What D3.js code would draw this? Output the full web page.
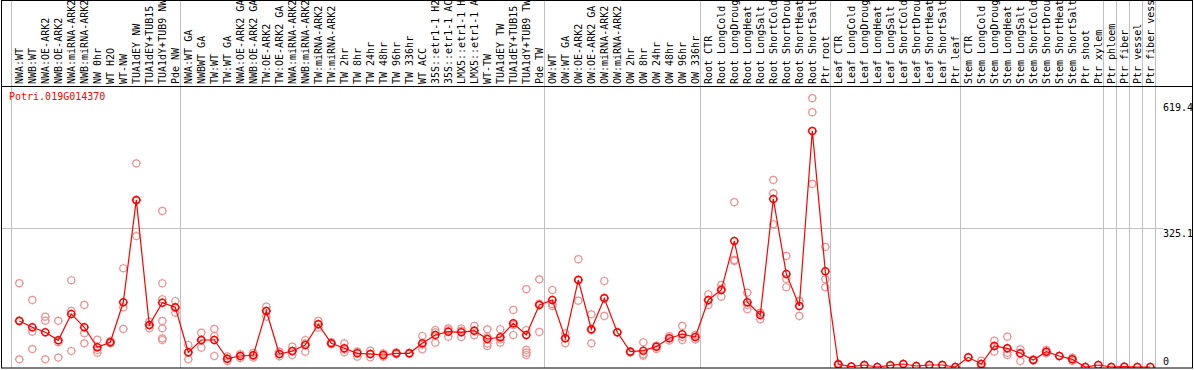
<!DOCTYPE html>
<html lang="en">
<head>
<meta charset="UTF-8">
<title>Potri.019G014370</title>
<script src="https://cdn.jsdelivr.net/npm/d3@7/dist/d3.min.js"></script>
<style>
    html, body { margin: 0; padding: 0; background: #fff; }
    svg { display: block; }
    text { font-family: "DejaVu Sans Mono", monospace; font-size: 10px; }
</style>
</head>
<body>
<div id="chart"></div>
<script>
// sample names, in plot order
var categories = [
    "NWA:WT", "NWB:WT", "NWA:OE-ARK2", "NWB:OE-ARK2", "NWA:miRNA-ARK2", "NWB:miRNA-ARK2",
    "NW 0hr", "WT H2O", "WT-NW", "TUA1dEY NW", "TUA1dEY+TUB15 NW", "TUA1dY+TUB9 NW", "Pde NW",
    "NWA:WT GA", "NWBWT GA", "TW:WT", "TW:WT GA", "NWA:OE-ARK2 GA", "NWB:OE-ARK2 GA", "TW:OE-ARK2",
    "TW:OE-ARK2 GA", "NWA:miRNA-ARK2", "NWB:miRNA-ARK2", "TW:miRNA-ARK2", "TW:miRNA-ARK2",
    "TW 2hr", "TW 8hr", "TW 24hr", "TW 48hr", "TW 96hr", "TW 336hr", "WT ACC",
    "35S::etr1-1 H2O", "35S::etr1-1 ACC", "LMX5::etr1-1 H2O", "LMX5::etr1-1 ACC", "WT-TW",
    "TUA1dEY TW", "TUA1dEY+TUB15 TW", "TUA1dY+TUB9 TW", "Pde TW",
    "OW:WT", "OW:WT GA", "OW:OE-ARK2", "OW:OE-ARK2 GA", "OW:miRNA-ARK2", "OW:miRNA-ARK2",
    "OW 2hr", "OW 8hr", "OW 24hr", "OW 48hr", "OW 96hr", "OW 336hr",
    "Root CTR", "Root LongCold", "Root LongDrought", "Root LongHeat", "Root LongSalt",
    "Root ShortCold", "Root ShortDrought", "Root ShortHeat", "Root ShortSalt", "Ptr root",
    "Leaf CTR", "Leaf LongCold", "Leaf LongDrought", "Leaf LongHeat", "Leaf LongSalt",
    "Leaf ShortCold", "Leaf ShortDrought", "Leaf ShortHeat", "Leaf ShortSalt", "Ptr leaf",
    "Stem CTR", "Stem LongCold", "Stem LongDrought", "Stem LongHeat", "Stem LongSalt",
    "Stem ShortCold", "Stem ShortDrought", "Stem ShortHeat", "Stem ShortSalt", "Ptr shoot",
    "Ptr xylem", "Ptr phloem", "Ptr fiber", "Ptr vessel", "Ptr fiber vessel"
];

// index of the last sample in each group (a vertical rule follows it)
var groupEnds = [-1, 12, 40, 52, 62, 72, 83, 84, 85, 86, 87];

// mean expression per sample
var means = [
    107.6, 92.8, 81.1, 62.4, 124, 92.8, 46, 57.8, 151.3, 390.6, 98.2, 150.4, 139.6,
    34.4, 63.1, 63.1, 19.4, 25.7, 27.4, 131, 30.4, 37.4, 51.4, 99.8, 55.4, 43.7, 32,
    30.4, 28, 32, 32, 55.4, 74.8, 82.6, 81.1, 84.9, 65.5, 69.5, 102.2, 74.8, 145,
    156.7, 67.1, 203.5, 88.2, 160.7, 81.1, 35.8, 38.2, 47.5, 67.1, 76.5, 70.2,
    156.7, 180, 294.7, 151.3, 121.6, 392.9, 217.5, 142.7, 551.9, 223.8,
    6.3, 1, 4.7, 0, 4, 7, 2.3, 4.7, 4.7, 0,
    22.6, 7, 49.1, 43.7, 32, 16.4, 35.8, 25.7, 18, 0, 4.7,
    0, 0.7, 0, 0
];

// individual replicates per sample
var replicates = [
    [196, 109, 18], [156.7, 82.6, 42], [117.7, 108.3, 18], [108, 58, 22], [202.8, 131, 37.4],
    [145, 78.8, 55.4], [63.9, 39.8, 33.5], [60.8, 55.4, 57], [230.8, 139.6, 88.9],
    [476, 389, 306], [106, 90.5, 98], [364.8, 195.7, 158.3, 107.6, 90.5, 67.1, 63.1],
    [154.3, 127, 138],
    [51.4, 34, 18], [80.2, 63, 45.1], [88.9, 72.5, 25.7], [25, 19, 14], [30, 26, 21],
    [33, 27, 22], [141, 131, 117.7], [36, 30, 25], [47.5, 37, 28], [63.1, 55, 35.8],
    [107.6, 100, 92], [58, 55, 53], [55.4, 41, 34.4], [35.8, 36, 24.1], [38.2, 30, 22.6],
    [32, 28, 24], [34, 30, 31], [33, 31], [72.5, 52, 41.4], [86.5, 81, 56.8],
    [90.5, 86, 70.9], [90, 85, 70], [95.9, 85, 74], [88, 55, 49, 70], [88.2, 56.8, 64],
    [133.3, 74.8, 98], [182, 86.5, 40, 33.5, 28], [205, 81.9, 148],
    [180, 142.7, 147], [78.8, 67, 55.4], [252, 155, 204], [123.2, 55.4, 86],
    [201, 119.3, 162], [81], [37, 34], [57.8, 30, 26.4], [50, 42], [72, 62],
    [95.9, 70, 63.1], [75, 64],
    [170, 155, 145], [191.8, 183, 164.4], [385.2, 250.2, 248], [173.8, 145, 134.9],
    [127, 126, 111.5], [437.3, 406.2, 333.7], [259.6, 205.8, 186.4], [154.3, 154, 119.3],
    [628.4, 595.7, 428], [280.6, 205.1, 186.4],
    [8, 6, 5], [1], [5, 4], [0], [4], [7], [2], [5], [5], [0],
    [22.6], [14.7, 7, 0], [61.5, 49, 35.8], [70.9, 43.7, 33.5, 28], [41.4, 32, 14],
    [18, 15], [40, 36, 32], [26], [22, 18, 14], [0], [4.7],
    [0], [0.7], [0], [0]
];

var yTicks = [0, 325.1, 619.4];
var geneName = "Potri.019G014370";

var W = 1194, H = 370;
var labelBottom = 86, plotBottom = 368;

var svg = d3.select("#chart").append("svg")
    .attr("width", W).attr("height", H);

var x = d3.scaleLinear().domain([0, categories.length - 1]).range([19.3, 19.3 + 13 * (categories.length - 1)]);
var y = d3.scaleLinear().domain([0, 619.4]).range([367, 102]);

svg.append("defs").append("clipPath").attr("id", "labClip")
    .append("rect").attr("x", 0).attr("y", 1).attr("width", W).attr("height", labelBottom - 1);
svg.append("defs").append("clipPath").attr("id", "plotClip")
    .append("rect").attr("x", 2).attr("y", labelBottom).attr("width", W - 4).attr("height", plotBottom - labelBottom);

// grid
svg.append("g").selectAll("line").data(groupEnds).enter().append("line")
    .attr("x1", function (d) { return Math.round(x(d) + 5) + 0.5; })
    .attr("x2", function (d) { return Math.round(x(d) + 5) + 0.5; })
    .attr("y1", 0).attr("y2", plotBottom)
    .attr("stroke", "#c0c0c0").attr("stroke-width", 1);

svg.append("line")
    .attr("x1", 1).attr("x2", 1163)
    .attr("y1", Math.round(y(325.1)) + 0.5).attr("y2", Math.round(y(325.1)) + 0.5)
    .attr("stroke", "#c0c0c0");

// sample labels (long ones run into the top edge, as in the original)
svg.append("g").attr("clip-path", "url(#labClip)")
    .selectAll("text").data(categories).enter().append("text")
    .attr("transform", function (d, i) { return "translate(" + (x(i) + 3.5) + "," + 84 + ") rotate(-90)"; })
    .attr("fill", "#000")
    .text(function (d) { return d; });

// y tick labels
svg.append("g").selectAll("text").data(yTicks).enter().append("text")
    .attr("x", 1163)
    .attr("y", function (d) { return d === 0 ? y(d) - 2 : y(d) + 9; })
    .attr("fill", "#000")
    .text(function (d) { return d === 0 ? "0" : d3.format(".1f")(d); });

svg.append("text").attr("x", 9).attr("y", 100).attr("fill", "red").text(geneName);

var marker = function (r) {
    return "M" + (-r) + ",0a" + r + "," + r + " 0 1,0 " + (2 * r) + ",0a" + r + "," + r + " 0 1,0 " + (-2 * r) + ",0" +
        "M0," + (-r - 1) + "v1M0," + r + "v1M" + (-r - 1) + ",0h1M" + r + ",0h1";
};

var plot = svg.append("g").attr("clip-path", "url(#plotClip)");

// replicates
var reps = [];
replicates.forEach(function (arr, i) { arr.forEach(function (v) { reps.push([i, v]); }); });
plot.append("g").selectAll("path").data(reps).enter().append("path")
    .attr("d", marker(3.5))
    .attr("transform", function (d) { return "translate(" + x(d[0]) + "," + y(d[1]) + ")"; })
    .attr("fill", "none").attr("stroke", "#ec9494").attr("stroke-width", 1.2);

// mean line
plot.append("path").datum(means)
    .attr("d", d3.line().x(function (d, i) { return x(i); }).y(function (d) { return y(d); }))
    .attr("fill", "none").attr("stroke", "red").attr("stroke-width", 1.2);

plot.append("g").selectAll("path").data(means).enter().append("path")
    .attr("d", marker(3.5))
    .attr("transform", function (d, i) { return "translate(" + x(i) + "," + y(d) + ")"; })
    .attr("fill", "none").attr("stroke", "red").attr("stroke-width", 1.5);

// frame
svg.append("rect").attr("x", 1.5).attr("y", 0.5).attr("width", 1191).attr("height", plotBottom - 0.5)
    .attr("fill", "none").attr("stroke", "#000");
svg.append("line").attr("x1", 1).attr("x2", 1192).attr("y1", labelBottom + 0.5).attr("y2", labelBottom + 0.5)
    .attr("stroke", "#000");
</script>
</body>
</html>
